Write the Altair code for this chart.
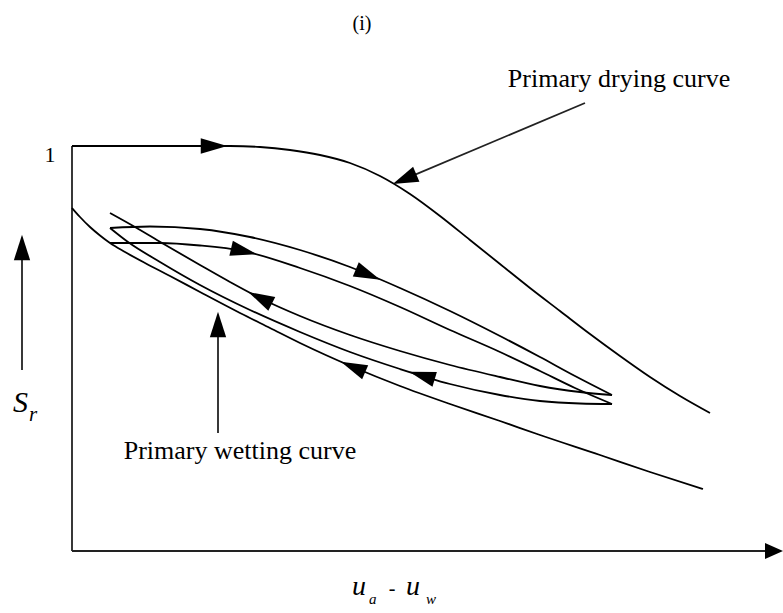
import math
import altair as alt
import numpy as np
import pandas as pd

# ---------------- data (schematic units: x = suction u_a - u_w, y = S_r, S_r = 1 at 405) ----
drying_x = [0, 158, 188, 218, 248, 278, 308, 338, 368, 398, 428, 458, 488, 518, 548, 578, 608, 638]
drying_y = [405, 405, 404, 401, 396, 388, 375, 357, 335, 311, 287, 263, 240, 217, 195, 174, 155, 138]

wetting_x = [0, 8, 18, 28, 38, 53, 73, 98, 128, 168, 198, 228, 281, 328, 378, 428, 468, 528, 578, 631]
wetting_y = [343, 334, 324, 315.5, 308, 299, 288, 275, 259, 238, 223, 208, 184, 165, 147, 130, 116, 96, 79, 62]

# scanning curves
scan_wet_2_x = [38, 63, 90, 128, 158, 190, 228, 278, 328, 378, 428, 468, 508, 540]
scan_wet_2_y = [338, 324, 308, 286, 269, 252, 235, 216, 200, 186, 174, 165, 159, 156]

scan_dry_2_x = [38, 78, 128, 178, 228, 278, 328, 378, 428, 468, 503, 540]
scan_dry_2_y = [323, 324.5, 322, 314, 301, 284, 263, 240, 215, 194, 175, 156]

scan_wet_1_x = [38, 56, 88, 128, 178, 228, 278, 328, 378, 428, 468, 508, 540]
scan_wet_1_y = [323, 309, 289, 266, 241, 219, 199, 182, 167, 156, 150, 147.5, 147]

scan_dry_1_x = [38, 88, 128, 171, 228, 278, 328, 378, 428, 468, 503, 540]
scan_dry_1_y = [308, 308, 305.5, 300, 283, 265, 244, 221, 199, 180, 163, 147]

# direction arrows on the curves
arrow_curve = ["drying", "scan_dry_1", "scan_dry_2", "scan_wet_2", "scan_wet_1", "wetting"]
arrow_x = [142, 172, 296, 188, 350, 281]
arrow_dir = ["right", "right", "right", "left", "left", "left"]

# axes and pointer arrows (start -> tip)
axis_y_line = [(0, 0), (0, 405)]
pointer_start = [(0, 0), (-50, 181), (513, 448), (146, 118)]
pointer_end = [(711, 0), (-50, 316), (321, 367), (146, 239)]

# texts
panel_label = "(i)"
y_tick_label = "1"
drying_label = "Primary drying curve"
wetting_label = "Primary wetting curve"

# ---------------- build tables ----------------
curves = {
    "drying": (drying_x, drying_y),
    "wetting": (wetting_x, wetting_y),
    "scan_wet_2": (scan_wet_2_x, scan_wet_2_y),
    "scan_dry_2": (scan_dry_2_x, scan_dry_2_y),
    "scan_wet_1": (scan_wet_1_x, scan_wet_1_y),
    "scan_dry_1": (scan_dry_1_x, scan_dry_1_y),
}
rows = []
for name, (xs, ys) in curves.items():
    for i, (a, b) in enumerate(zip(xs, ys)):
        rows.append({"curve": name, "x": a, "y": b, "i": i})
curve_df = pd.DataFrame(rows)

arows = []
for c, xv, d in zip(arrow_curve, arrow_x, arrow_dir):
    xs, ys = curves[c]
    yv = float(np.interp(xv, xs, ys))
    y1 = float(np.interp(xv - 4, xs, ys))
    y2 = float(np.interp(xv + 4, xs, ys))
    ang = math.degrees(math.atan2(-(y2 - y1), 8))
    if d == "left":
        ang += 180
    arows.append({"x": xv, "y": yv, "angle": ang % 360})
arrow_df = pd.DataFrame(arows)

seg_rows = [{"x": axis_y_line[0][0], "y": axis_y_line[0][1], "x2": axis_y_line[1][0], "y2": axis_y_line[1][1]}]
head_rows = []
for k, (s, e) in enumerate(zip(pointer_start, pointer_end)):
    dx, dy = e[0] - s[0], e[1] - s[1]
    L = math.hypot(dx, dy)
    ux, uy = dx / L, dy / L
    hl = 18 if k == 0 else 25
    cx, cy = e[0] - ux * hl / 2, e[1] - uy * hl / 2
    seg_rows.append({"x": s[0], "y": s[1], "x2": cx, "y2": cy})
    head_rows.append({"x": cx, "y": cy, "angle": math.degrees(math.atan2(-dy, dx)) % 360, "k": k})
seg_df = pd.DataFrame(seg_rows)
head_df = pd.DataFrame(head_rows)

X = alt.X("x:Q", scale=alt.Scale(domain=[-72, 711], nice=False, zero=False), axis=None)
Y = alt.Y("y:Q", scale=alt.Scale(domain=[-62, 551], nice=False, zero=False), axis=None)

lines = alt.Chart(curve_df).mark_line(
    color="black", strokeWidth=1.8, interpolate="monotone"
).encode(x=X, y=Y, detail="curve:N", order="i:Q")

ARROW = "M 1 0 L -1 -0.58 L -1 0.58 Z"
WIDE = "M 1 0 L -1 -0.9 L -1 0.9 Z"

curve_heads = alt.Chart(arrow_df).mark_point(
    shape=ARROW, filled=True, color="black", opacity=1, size=700, strokeWidth=0
).encode(x=X, y=Y, angle=alt.Angle("angle:Q", scale=None))

segs = alt.Chart(seg_df).mark_rule(color="#222", strokeWidth=1.8).encode(
    x=X, y=Y, x2="x2:Q", y2="y2:Q"
)

ptr_heads = alt.Chart(head_df[head_df.k > 0]).mark_point(
    shape="M 1 0 L -1 -0.64 L -1 0.64 Z", filled=True, color="black", opacity=1, size=650, strokeWidth=0
).encode(x=X, y=Y, angle=alt.Angle("angle:Q", scale=None))

axis_head = alt.Chart(head_df[head_df.k == 0]).mark_point(
    shape=WIDE, filled=True, color="black", opacity=1, size=324, strokeWidth=0
).encode(x=X, y=Y, angle=alt.Angle("angle:Q", scale=None))


def txt(items, **kw):
    df = pd.DataFrame(items, columns=["x", "y", "t"])
    return alt.Chart(df).mark_text(font="Liberation Serif", color="black", **kw).encode(
        x=X, y=Y, text="t:N"
    )


t_panel = txt([(290, 527, panel_label)], fontSize=20, baseline="middle", align="center")
t_tick = txt([(-22, 396, y_tick_label)], fontSize=22, baseline="middle", align="center")
t_labels = txt([(547, 464, drying_label), (168, 92, wetting_label)],
               fontSize=26, baseline="alphabetic", align="center")
t_S = txt([(-59, 139, "S")], fontSize=30, fontStyle="italic", align="left", baseline="alphabetic")
t_r = txt([(-43, 130, "r")], fontSize=21, fontStyle="italic", align="left", baseline="alphabetic")
t_u = txt([(280, -44, "u"), (334, -44, "u")], fontSize=28, fontStyle="italic", align="left", baseline="alphabetic")
t_sub = txt([(297, -53, "a"), (354, -53, "w")], fontSize=15, fontStyle="italic", align="left", baseline="alphabetic")
t_minus = txt([(320, -38, "-")], fontSize=20, align="center", baseline="middle")

chart = alt.layer(
    segs, lines, curve_heads, ptr_heads, axis_head,
    t_panel, t_tick, t_labels, t_S, t_r, t_u, t_sub, t_minus
).properties(
    width=783, height=613, padding=0, autosize="none"
).configure_view(stroke=None)

chart.save("out.html", embed_options={"renderer": "svg", "actions": False})
